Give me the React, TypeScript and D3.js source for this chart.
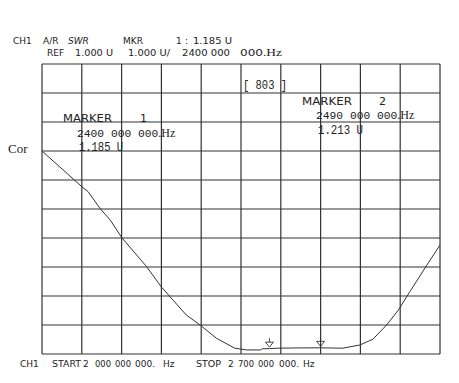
import React from "react";
import * as d3 from "d3";

const freqMHz = [2000, 2070, 2081, 2102, 2120, 2140, 2184, 2210, 2254, 2278, 2307, 2339, 2360, 2384, 2388, 2400, 2413, 2450, 2490, 2529, 2559, 2582, 2606, 2627, 2647, 2677, 2700];
const swr = [8.0, 6.77, 6.6, 6.02, 5.62, 5.02, 4.01, 3.31, 2.34, 2.0, 1.54, 1.2, 1.14, 1.14, 1.18, 1.185, 1.2, 1.21, 1.213, 1.2, 1.31, 1.51, 2.0, 2.52, 3.15, 4.07, 4.76];
const markerFreqs = [2400, 2490];
const xDomain = [2000, 2700];
const yDomain = [1, 11];
const xDivisions = 10;
const yDivisions = 10;

const W = 459, H = 383;
const L = 42, R = 440, T = 64, B = 354;

export default function App() {
  const x = d3.scaleLinear().domain(xDomain).range([L, R]);
  const y = d3.scaleLinear().domain(yDomain).range([B, T]);
  const xt = d3.range(xDivisions + 1).map((i) => xDomain[0] + (i * (xDomain[1] - xDomain[0])) / xDivisions);
  const yt = d3.range(yDivisions + 1).map((i) => yDomain[0] + (i * (yDomain[1] - yDomain[0])) / yDivisions);
  const line = d3.line<number>().x((_, i) => x(freqMHz[i])).y((d) => y(d));
  const pts = swr;
  const interp = (f: number) => {
    const i = d3.bisectRight(freqMHz, f) - 1;
    const j = Math.min(i + 1, freqMHz.length - 1);
    if (i === j) return swr[i];
    const t = (f - freqMHz[i]) / (freqMHz[j] - freqMHz[i]);
    return swr[i] + t * (swr[j] - swr[i]);
  };
  const sans = "'DejaVu Sans', Verdana, sans-serif";
  const mono = "'Liberation Mono', 'DejaVu Sans Mono', monospace";
  const serif = "'Liberation Serif', 'DejaVu Serif', serif";
  const col = "#222";
  const T1 = (props: any) => <text fill={col} {...props} />;
  return (
    <svg width={W} height={H} style={{ position: "absolute", left: 0, top: 0, background: "#fff" }}>
      <rect x={0} y={0} width={W} height={H} fill="#fff" />
      {/* header */}
      <g fontFamily={sans} fontSize={9}>
        <T1 x={13} y={44}>CH1</T1>
        <T1 x={43} y={44}>A/R</T1>
        <T1 x={68} y={44} fontStyle="italic">SWR</T1>
        <T1 x={123} y={44}>MKR</T1>
        <T1 x={176} y={44}>1</T1>
        <T1 x={185} y={44}>:</T1>
        <T1 x={193} y={44} textLength={39} lengthAdjust="spacingAndGlyphs">1.185 U</T1>
        <T1 x={47} y={56}>REF</T1>
        <T1 x={75} y={56} textLength={38} lengthAdjust="spacingAndGlyphs">1.000 U</T1>
        <T1 x={128} y={56} textLength={42} lengthAdjust="spacingAndGlyphs">1.000 U/</T1>
        <T1 x={182} y={56} textLength={48} lengthAdjust="spacingAndGlyphs">2400 000</T1>
        <T1 x={240} y={56} textLength={42} lengthAdjust="spacingAndGlyphs">000<tspan fontFamily={serif} fontSize={10}>.Hz</tspan></T1>
      </g>
      {/* grid */}
      <g stroke="#333" strokeWidth={1.2}>
        {xt.map((v, i) => (
          <line key={"v" + i} x1={x(v)} x2={x(v)} y1={T} y2={B} />
        ))}
        {yt.map((v, i) => (
          <line key={"h" + i} x1={L} x2={R} y1={y(v)} y2={y(v)} />
        ))}
      </g>
      {/* overlay texts */}
      <T1 x={243} y={89} fontFamily={mono} fontSize={12} textLength={44} lengthAdjust="spacingAndGlyphs">[ 803 ]</T1>
      <T1 x={63} y={122} fontFamily={sans} fontSize={11} textLength={49} lengthAdjust="spacingAndGlyphs">MARKER</T1>
      <T1 x={140} y={122} fontFamily={sans} fontSize={11}>1</T1>
      <T1 x={77} y={137} fontFamily={mono} fontSize={11.3}>2400 000 000<tspan fontFamily={serif} fontSize={12}>.Hz</tspan></T1>
      <T1 x={79} y={151} fontFamily={mono} fontSize={12} textLength={44} lengthAdjust="spacingAndGlyphs">1.185 U</T1>
      <T1 x={302} y={105} fontFamily={sans} fontSize={11} textLength={50} lengthAdjust="spacingAndGlyphs">MARKER</T1>
      <T1 x={379} y={105} fontFamily={sans} fontSize={11}>2</T1>
      <T1 x={316} y={119} fontFamily={mono} fontSize={11.3}>2490 000 000<tspan fontFamily={serif} fontSize={12}>.Hz</tspan></T1>
      <T1 x={318} y={134} fontFamily={mono} fontSize={12} textLength={45} lengthAdjust="spacingAndGlyphs">1.213 U</T1>
      <T1 x={8} y={153} fontFamily={serif} fontSize={13}>Cor</T1>
      {/* trace */}
      <path d={line(pts) || ""} fill="none" stroke="#333" strokeWidth={1} />
      {/* markers */}
      {markerFreqs.map((f, i) => {
        const mx = x(f);
        const my = y(interp(f)) - 1.5;
        return (
          <g key={"m" + i} stroke="#333" strokeWidth={0.9} fill="none">
            <line x1={mx} x2={mx} y1={my - 9} y2={my - 5} />
            <path d={`M${mx - 4},${my - 5}L${mx + 4},${my - 5}L${mx},${my}Z`} />
          </g>
        );
      })}
      {/* footer */}
      <g fontFamily={sans} fontSize={9}>
        <T1 x={20} y={367}>CH1</T1>
        <T1 x={52} y={367} textLength={29} lengthAdjust="spacingAndGlyphs">START</T1>
        <T1 x={83} y={367}>2</T1>
        <T1 x={95} y={367} textLength={16} lengthAdjust="spacingAndGlyphs">000</T1>
        <T1 x={115} y={367} textLength={16} lengthAdjust="spacingAndGlyphs">000</T1>
        <T1 x={135} y={367} textLength={20} lengthAdjust="spacingAndGlyphs">000.</T1>
        <T1 x={163} y={367}>Hz</T1>
        <T1 x={196} y={367} textLength={25} lengthAdjust="spacingAndGlyphs">STOP</T1>
        <T1 x={228} y={367}>2</T1>
        <T1 x={238} y={367} textLength={16} lengthAdjust="spacingAndGlyphs">700</T1>
        <T1 x={258} y={367} textLength={16} lengthAdjust="spacingAndGlyphs">000</T1>
        <T1 x={279} y={367} textLength={20} lengthAdjust="spacingAndGlyphs">000.</T1>
        <T1 x={303} y={367}>Hz</T1>
      </g>
    </svg>
  );
}
